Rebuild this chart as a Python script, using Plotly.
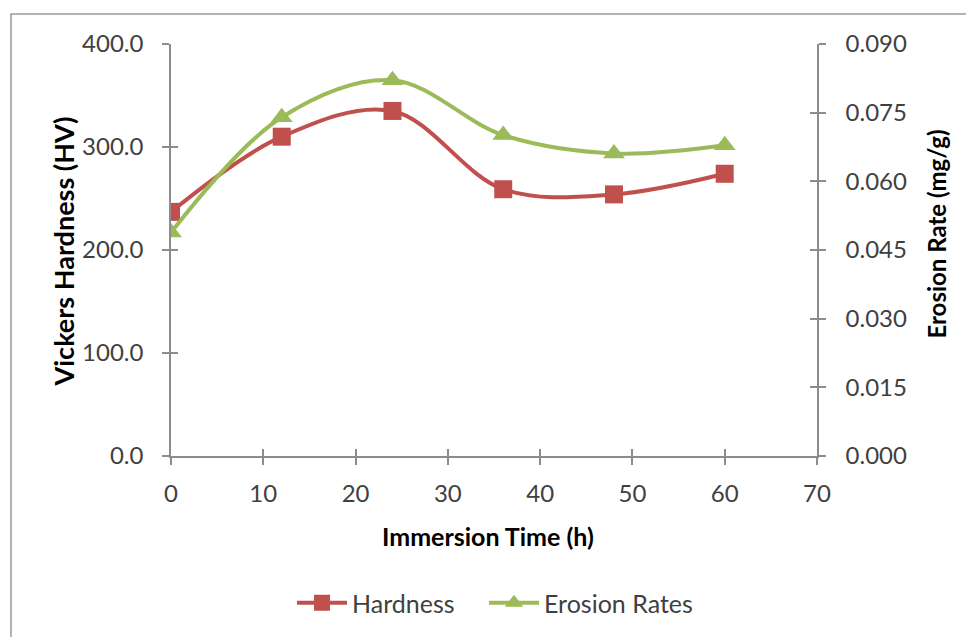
import plotly.graph_objects as go

# Immersion time (h) and measured properties
immersion_time = [0, 12, 24, 36, 48, 60]
hardness_hv = [237, 310, 335, 259, 254, 274]
erosion_rate = [0.0488, 0.0740, 0.0821, 0.0701, 0.0661, 0.0679]

left_ticks = [0, 100, 200, 300, 400]
right_ticks = [0.000, 0.015, 0.030, 0.045, 0.060, 0.075, 0.090]
x_ticks = [0, 10, 20, 30, 40, 50, 60, 70]

RED = "#C0504D"
GREEN = "#9BBB59"
AXIS = "#8c8c8c"
TXT = "#404040"
FONT = "Lato, 'Open Sans', sans-serif"

W, H = 966, 637
L, R, T, B = 171, 149, 44, 180
PW, PH = W - L - R, H - T - B

def px_x(p):
    return (p - L) / PW

def px_y(p):
    return (T + PH - p) / PH

fig = go.Figure()

fig.add_trace(go.Scatter(
    x=immersion_time, y=hardness_hv, name="Hardness",
    mode="lines+markers",
    line=dict(color=RED, width=4, shape="spline", smoothing=1.0),
    marker=dict(symbol="square", size=18, color=RED),
    yaxis="y", legend="legend",
))
fig.add_trace(go.Scatter(
    x=immersion_time, y=erosion_rate, name="Erosion Rates",
    mode="lines+markers",
    line=dict(color=GREEN, width=4, shape="spline", smoothing=1.0),
    marker=dict(symbol="triangle-up", size=19, color=GREEN),
    yaxis="y2", legend="legend2",
))

tick_font = dict(family=FONT, size=24, color=TXT)
legend_style = dict(
    orientation="h", xanchor="left", yanchor="middle", y=px_y(603),
    font=dict(family=FONT, size=25, color=TXT),
    itemwidth=50, bgcolor="rgba(0,0,0,0)",
)

fig.update_layout(
    width=W, height=H,
    margin=dict(l=L, r=R, t=T, b=B),
    paper_bgcolor="white", plot_bgcolor="white",
    showlegend=True,
    legend=dict(x=px_x(292), **legend_style),
    legend2=dict(x=px_x(484), **legend_style),
    xaxis=dict(
        range=[0, 70], tickvals=x_ticks, ticktext=[str(v) for v in x_ticks],
        showgrid=False, zeroline=False, showline=True, linecolor=AXIS, linewidth=1.5,
        ticks="outside", ticklen=7, tickcolor=AXIS, tickwidth=1.5,
        ticklabelstandoff=8, tickfont=tick_font,
    ),
    yaxis=dict(
        range=[0, 400], tickvals=left_ticks, ticktext=[f"{v:.1f}" for v in left_ticks],
        showgrid=False, zeroline=False, showline=True, linecolor=AXIS, linewidth=1.5,
        ticks="outside", ticklen=7, tickcolor=AXIS, tickwidth=1.5,
        ticklabelstandoff=14, tickfont=tick_font,
    ),
    yaxis2=dict(
        range=[0, 0.09], tickvals=right_ticks, ticktext=[f"{v:.3f}" for v in right_ticks],
        overlaying="y", side="right",
        showgrid=False, zeroline=False, showline=True, linecolor=AXIS, linewidth=1.5,
        ticks="outside", ticklen=7, tickcolor=AXIS, tickwidth=1.5,
        ticklabelstandoff=15, tickfont=tick_font,
    ),
    # inner halves of the cross tick marks
    xaxis2=dict(
        range=[0, 70], tickvals=x_ticks, showticklabels=False, overlaying="x",
        showgrid=False, zeroline=False, showline=False,
        ticks="inside", ticklen=7, tickcolor=AXIS, tickwidth=1.5, anchor="y",
    ),
    yaxis3=dict(
        range=[0, 400], tickvals=left_ticks, showticklabels=False, overlaying="y",
        showgrid=False, zeroline=False, showline=False,
        ticks="inside", ticklen=7, tickcolor=AXIS, tickwidth=1.5, anchor="x",
    ),
    yaxis4=dict(
        range=[0, 0.09], tickvals=right_ticks, showticklabels=False, overlaying="y",
        side="right", showgrid=False, zeroline=False, showline=False,
        ticks="inside", ticklen=7, tickcolor=AXIS, tickwidth=1.5, anchor="x",
    ),
)

# invisible traces so the helper axes get drawn
fig.add_trace(go.Scatter(x=[0], y=[0], xaxis="x2", yaxis="y3", mode="markers",
                         marker=dict(opacity=0), showlegend=False, hoverinfo="skip"))
fig.add_trace(go.Scatter(x=[0], y=[0], xaxis="x2", yaxis="y4", mode="markers",
                         marker=dict(opacity=0), showlegend=False, hoverinfo="skip"))

def title(text, cx, cy, size, angle=0):
    fig.add_annotation(text=f"<b>{text}</b>", x=px_x(cx), y=px_y(cy),
                       xref="paper", yref="paper", xanchor="center", yanchor="middle",
                       showarrow=False, textangle=angle,
                       font=dict(family=FONT, size=size, color="black"))

title("Immersion Time (h)", 488, 537, 25)
title("Vickers Hardness (HV)", 63, 252, 27, -90)
title("Erosion Rate (mg/g)", 937, 235, 24, -90)

# chart-area frame
fig.add_shape(type="rect", xref="paper", yref="paper",
              x0=px_x(11), x1=px_x(1000), y0=px_y(700), y1=px_y(14),
              line=dict(color="#9a9a9a", width=1.5), fillcolor="rgba(0,0,0,0)", layer="below")

fig.write_html("out.html")
